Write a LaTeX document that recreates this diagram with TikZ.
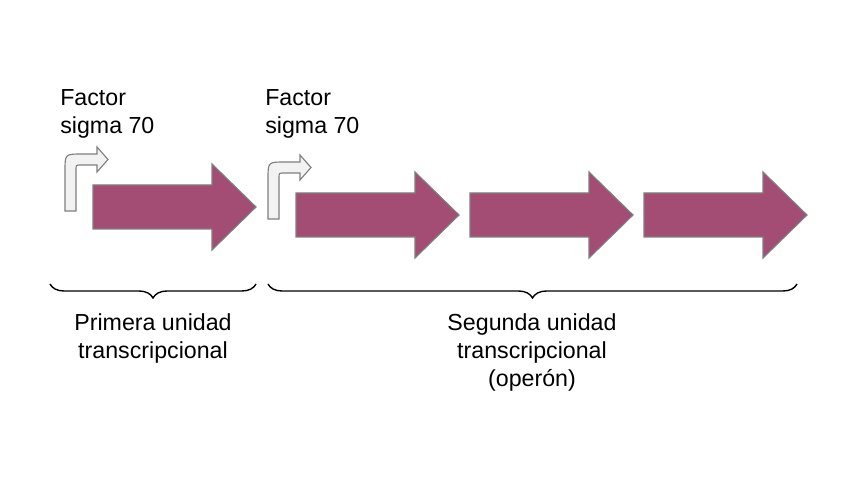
\documentclass[tikz,border=0pt]{standalone}
\usepackage{fontspec}
\setmainfont{Liberation Sans}
\usetikzlibrary{positioning,decorations.pathreplacing}
\definecolor{genefill}{HTML}{A34C74}
\definecolor{geneline}{HTML}{7F7F7F}
\definecolor{promfill}{HTML}{F2F2F2}
\tikzset{
  genebox/.style={draw=geneline, fill=genefill, line width=0.8pt},
  prombox/.style={draw=geneline, fill=promfill, line width=0.8pt},
  unitbrace/.style={decorate, decoration={brace, amplitude=0.35cm}, line width=1pt},
  txt/.style={font=\fontsize{16.5}{20}\selectfont, inner sep=0pt},
  pics/gene/.style={code={
    \draw[genebox] (0,-22) -- (119,-22) -- (119,-43) -- (163,0) -- (119,43) -- (119,22) -- (0,22) -- cycle;
    \coordinate (-tip) at (163,0);
  }},
  pics/prom/.style={code={
    \draw[prombox] (0,0) -- (0,-40) .. controls (0,-57) .. (17,-57) -- (32,-57) -- (32,-64)
      -- (43,-51.5) -- (32,-39) -- (32,-46) -- (16,-46) .. controls (11,-46) .. (11,-41) -- (11,0) -- cycle;
  }}
}

\begin{document}
\begin{tikzpicture}[x=0.025cm, y=-0.025cm]
  \useasboundingbox[fill=white] (0,0) rectangle (848,477);

  % primera unidad
  \pic (p1) at (65,211) {prom};
  \pic (g1) at (93,207) {gene};
  \node[txt, anchor=north west, align=left] (sig1) at (60,89) {Factor\\sigma 70};

  % segunda unidad (operon)
  \pic (p2) at (268,219) {prom};
  \pic (g2) at (296,215) {gene};
  \pic (g3) at (470,215) {gene};
  \pic (g4) at (644,215) {gene};
  \node[txt, anchor=north west, align=left] (sig2) at (265,89) {Factor\\sigma 70};

  % llaves
  \coordinate (u1l) at (50,284);
  \coordinate (u1r) at (256,284);
  \coordinate (u2l) at (268,284);
  \coordinate (u2r) at (797,284);
  \draw[unitbrace] (u1r) -- (u1l);
  \draw[unitbrace] (u2r) -- (u2l);

  \node[txt, anchor=north, align=center] (unit1) at (153,313) {Primera unidad\\transcripcional};
  \node[txt, anchor=north, align=center] (unit2) at (532,313) {Segunda unidad\\transcripcional\\(operón)};
\end{tikzpicture}
\end{document}
